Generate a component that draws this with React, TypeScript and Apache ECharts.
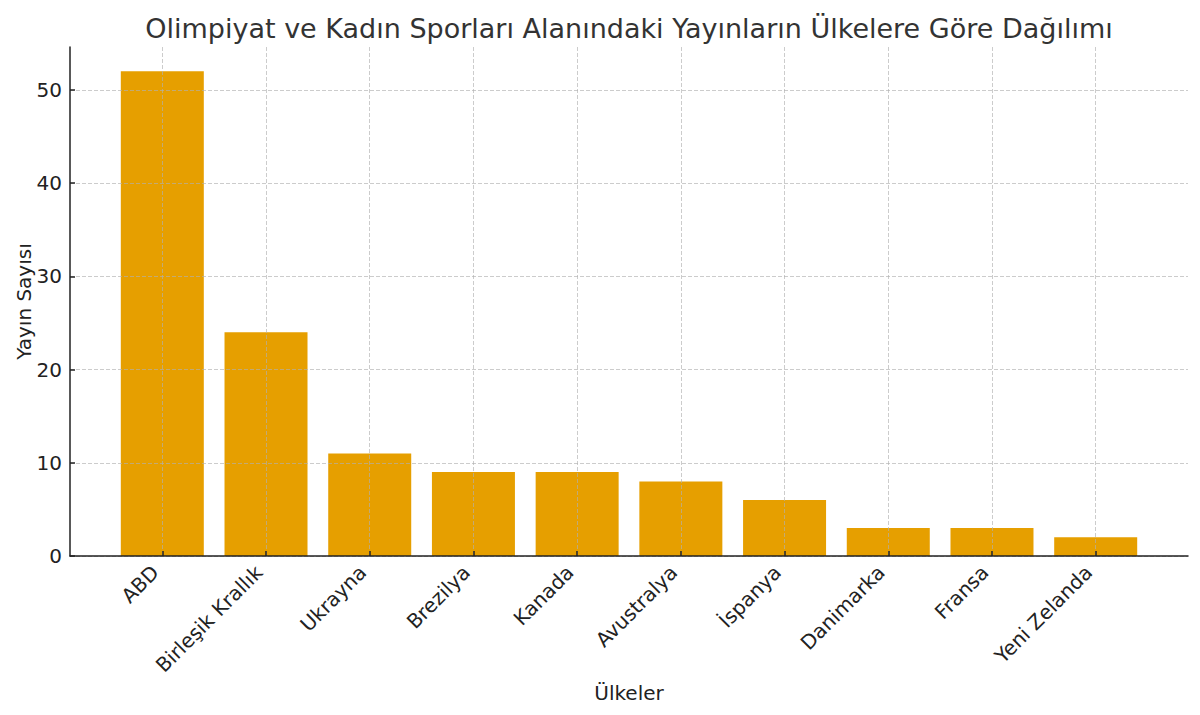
import { useEffect, useRef } from 'react';
import * as echarts from 'echarts';

const countries = [
  'ABD', 'Birleşik Krallık', 'Ukrayna', 'Brezilya', 'Kanada',
  'Avustralya', 'İspanya', 'Danimarka', 'Fransa', 'Yeni Zelanda',
];
const publications = [52, 24, 11, 9, 9, 8, 6, 3, 3, 2];
const yTicks = [0, 10, 20, 30, 40, 50];

const FONT = 'DejaVu Sans';

export default function App() {
  const ref = useRef<HTMLDivElement>(null);

  useEffect(() => {
    document.body.style.margin = '0';
    if (!ref.current) return;
    const chart = echarts.init(ref.current, undefined, { renderer: 'svg' });

    const xIdx = countries.map((_, i) => i);
    const dashed = { color: 'rgba(176,176,176,0.65)', type: [4, 2], width: 1 };

    chart.setOption({
      animation: false,
      backgroundColor: '#fff',
      textStyle: { fontFamily: FONT },
      title: {
        text: 'Olimpiyat ve Kadın Sporları Alanındaki Yayınların Ülkelere Göre Dağılımı',
        left: 624, top: 10, textAlign: 'center',
        textStyle: { fontFamily: FONT, fontSize: 27, fontWeight: 'normal', color: '#333' },
      },
      grid: { left: 70, right: 12, top: 47, bottom: 159, outerBoundsMode: 'none', containLabel: false },
      xAxis: {
        type: 'value',
        min: -0.89, max: 9.89,
        name: 'Ülkeler', nameLocation: 'middle', nameGap: 127, nameMoveOverlap: false,
        nameTextStyle: { fontFamily: FONT, fontSize: 20, color: '#222' },
        z: 5,
        axisLine: { show: true, onZero: false, lineStyle: { color: '#222', width: 1.5 } },
        axisTick: { show: true, inside: true, length: 5, customValues: xIdx, lineStyle: { color: '#222', width: 1.5 } },
        axisLabel: {
          customValues: xIdx, rotate: 45, margin: 20,
          align: 'right', verticalAlign: 'bottom',
          fontFamily: FONT, fontSize: 20, color: '#222',
          formatter: (v: number) => countries[Math.round(v)] ?? '',
        },
        splitLine: { show: true, lineStyle: dashed },
      },
      yAxis: {
        type: 'value',
        min: 0, max: 54.6,
        name: 'Yayın Sayısı', nameLocation: 'middle', nameGap: 36, nameMoveOverlap: false,
        nameTextStyle: { fontFamily: FONT, fontSize: 20, color: '#222' },
        z: 5,
        axisLine: { show: true, onZero: false, lineStyle: { color: '#222', width: 1.5 } },
        axisTick: { show: true, inside: true, length: 5, customValues: yTicks, lineStyle: { color: '#222', width: 1.5 } },
        axisLabel: { customValues: yTicks, margin: 8, fontFamily: FONT, fontSize: 20, color: '#222' },
        splitLine: { show: true, lineStyle: dashed },
      },
      series: [{
        type: 'bar',
        data: publications.map((v, i) => [i, v]),
        barWidth: 83,
        itemStyle: { color: '#E69F00' },
        z: 1,
      }],
    });

    return () => chart.dispose();
  }, []);

  return <div ref={ref} style={{ width: 1200, height: 715 }} />;
}
